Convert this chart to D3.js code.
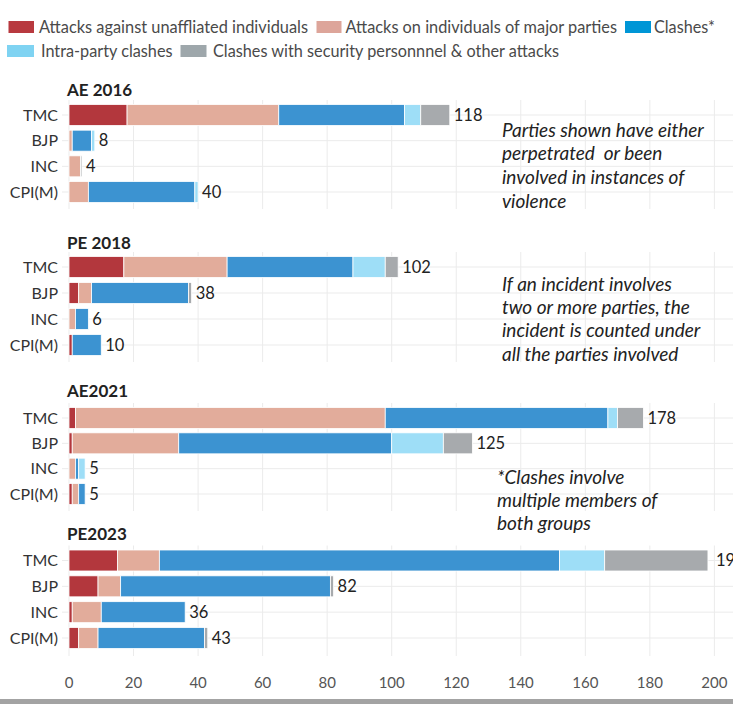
<!DOCTYPE html>
<html><head><meta charset="utf-8">
<script src="https://cdn.jsdelivr.net/npm/d3@7"></script>
<style>
html,body{margin:0;padding:0;background:#fff;overflow:hidden;}
svg{display:block;}
</style></head>
<body>
<svg id="chart" width="733" height="704"></svg>
<script>
// ---- data ----
const seriesNames = ["Attacks against unaffliated individuals","Attacks on individuals of major parties","Clashes*","Intra-party clashes","Clashes with security personnnel & other attacks"];
const parties = ["TMC","BJP","INC","CPI(M)"];
const panelTitles = ["AE 2016","PE 2018","AE2021","PE2023"];
// values per panel, per party: [unaffiliated, major parties, clashes, intra-party, security/other]
const ae2016 = [[18,47,39,5,9],[0,1,6,1,0],[0,3.6,0,0,0.4],[0,6,33,1,0]];
const pe2018 = [[17,32,39,10,4],[3,4,30,0,1],[0,2,4,0,0],[1,0,9,0,0]];
const ae2021 = [[2,96,69,3,8],[1,33,66,16,9],[0,2,1,2,0],[1,2,2,0,0]];
const pe2023 = [[15,13,124,14,32],[9,7,65,0,1],[1,9,26,0,0],[3,6,33,0,1]];
const totalLabels = [[118,8,4,40],[102,38,6,10],[178,125,5,5],[198,82,36,43]];
const xTicks = [0,20,40,60,80,100,120,140,160,180,200];
const notes = [
  ["Parties shown have either","perpetrated  or been","involved in instances of","violence"],
  ["If an incident involves","two or more parties, the","incident is counted under","all the parties involved"],
  ["*Clashes involve","multiple members of","both groups"]
];

// ---- styling ----
const barColors = ["#b3373d","#e2ac9b","#3c93d1","#9edef7","#a7aaad"];
const legendColors = ["#b8393f","#dda59a","#0096d6","#7fd3f2","#9ea7ab"];
const FONT = "'Source Sans Pro','Lato','Open Sans',sans-serif";

const svg = d3.select("#chart");
const x = d3.scaleLinear().domain([0,200]).range([69,714.4]);

const panelData = [ae2016, pe2018, ae2021, pe2023];
const panelCenters = [[115,192],[267,345],[418,494],[560.5,638]];
const titleY = [96, 249, 397, 540];

// legend (swatch x, swatch width, text x, text width, row y)
const legendItems = [
  {i:0, sx:8.5, sw:25.5, tx:39, tw:269, y:27},
  {i:1, sx:316.5, sw:25, tx:345.5, tw:271.5, y:27},
  {i:2, sx:625, sw:26, tx:654, tw:61, y:27},
  {i:3, sx:7, sw:27, tx:41, tw:131.5, y:51},
  {i:4, sx:180.5, sw:26, tx:213, tw:346, y:51}
];
const lg = svg.append("g");
legendItems.forEach(it=>{
  lg.append("rect").attr("x",it.sx).attr("y",it.y-6).attr("width",it.sw).attr("height",12).attr("fill",legendColors[it.i]);
  lg.append("text").attr("x",it.tx).attr("y",it.y).attr("dy","0.35em")
    .attr("font-family",FONT).attr("font-size",16.5).attr("fill","#4a4a4a")
    .attr("textLength",it.tw).attr("lengthAdjust","spacingAndGlyphs").text(seriesNames[it.i]);
});

panelData.forEach((data,pi)=>{
  const g = svg.append("g");
  const y = d3.scalePoint().domain(parties).range(panelCenters[pi]);
  const top = panelCenters[pi][0]-15, bottom = panelCenters[pi][1]+ (pi===3?18:17);
  // vertical grid
  g.selectAll("line.v").data(xTicks).join("line")
    .attr("x1",d=>x(d)).attr("x2",d=>x(d)).attr("y1",top).attr("y2",bottom)
    .attr("stroke","#ebebeb").attr("stroke-width",1);
  // horizontal grid
  g.selectAll("line.h").data(parties).join("line")
    .attr("x1",62).attr("x2",733).attr("y1",d=>y(d)).attr("y2",d=>y(d))
    .attr("stroke","#ebebeb").attr("stroke-width",1);
  // title
  g.append("text").attr("x",67).attr("y",titleY[pi]).attr("font-family",FONT)
    .attr("font-weight","bold").attr("font-size",17).attr("fill","#222").text(panelTitles[pi]);
  // category labels
  g.selectAll("text.cat").data(parties).join("text")
    .attr("x",58).attr("y",d=>y(d)).attr("dy","0.35em").attr("text-anchor","end")
    .attr("font-family",FONT).attr("font-size",16).attr("fill","#333").text(d=>d);
  // stacked bars
  parties.forEach((p,ri)=>{
    const vals = data[ri];
    let cum = 0;
    vals.forEach((v,si)=>{
      if(v>0){
        g.append("rect").attr("x",x(cum)).attr("width",x(cum+v)-x(cum))
          .attr("y",y(p)-10.5).attr("height",21).attr("fill",barColors[si])
          .attr("stroke","#fff").attr("stroke-width",0.8);
      }
      cum += v;
    });
    g.append("text").attr("x",x(cum)+(pi===3&&ri===0?8:4)).attr("y",y(p)).attr("dy","0.35em")
      .attr("font-family",FONT).attr("font-size",16.5).attr("fill","#222").text(totalLabels[pi][ri]);
  });
});

// x axis labels
svg.append("g").selectAll("text").data(xTicks).join("text")
  .attr("x",d=>x(d)).attr("y",683).attr("dy","0.35em").attr("text-anchor","middle")
  .attr("font-family",FONT).attr("font-size",15).attr("fill","#555").text(d=>d);

// notes
const noteStarts = [{x:502,y:130,lh:23.7},{x:502,y:284,lh:23.3},{x:497,y:477,lh:23}];
notes.forEach((lines,ni)=>{
  const t = svg.append("text").attr("font-family",FONT).attr("font-style","italic")
    .attr("font-size",19).attr("fill","#222").style("white-space","pre");
  lines.forEach((l,li)=>{
    t.append("tspan").attr("x",noteStarts[ni].x).attr("y",noteStarts[ni].y+li*noteStarts[ni].lh)
      .attr("dy","0.35em").style("white-space","pre").text(l);
  });
});

// bottom rule
svg.append("rect").attr("x",0).attr("y",699).attr("width",733).attr("height",5).attr("fill","#a3a3a3");
</script>
</body></html>
